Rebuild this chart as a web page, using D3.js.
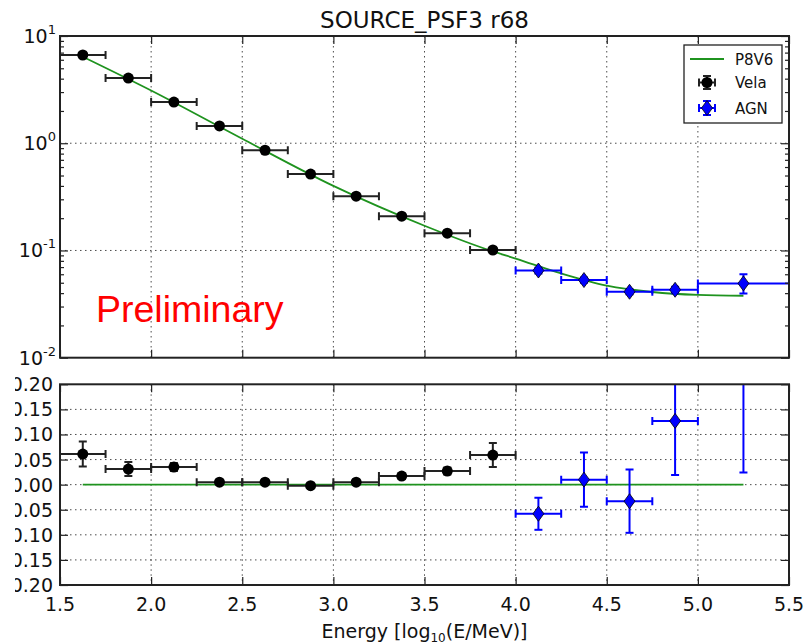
<!DOCTYPE html>
<html>
<head>
<meta charset="utf-8">
<script src="https://cdn.jsdelivr.net/npm/d3@7"></script>
<style>
  html, body { margin: 0; padding: 0; background: #fff; }
  svg { display: block; font-family: "DejaVu Sans", sans-serif; }
</style>
</head>
<body>
<div id="chart"></div>
<script>
// Vela (black circles), bins of width 0.25 in log10(E/MeV)
const velaE = [1.625, 1.875, 2.125, 2.375, 2.625, 2.875, 3.125, 3.375, 3.625, 3.875];
const velaXErr = [0.125, 0.125, 0.125, 0.125, 0.125, 0.125, 0.125, 0.125, 0.125, 0.125];
const velaR68 = [6.65, 4.05, 2.42, 1.45, 0.86, 0.516, 0.321, 0.209, 0.145, 0.101];
const velaRes = [0.061, 0.031, 0.035, 0.005, 0.005, -0.002, 0.005, 0.017, 0.027, 0.059];
const velaResErr = [0.025, 0.014, 0.008, 0.004, 0.004, 0.004, 0.004, 0.005, 0.007, 0.024];

// AGN (blue diamonds)
const agnE = [4.125, 4.375, 4.625, 4.875, 5.25];
const agnXErr = [0.125, 0.125, 0.125, 0.125, 0.25];
const agnR68 = [0.0650, 0.0530, 0.0412, 0.0430, 0.0493];
const agnLo = [0.0610, 0.0500, 0.0390, 0.0400, 0.0396];
const agnHi = [0.0690, 0.0560, 0.0435, 0.0460, 0.0600];
const agnRes = [-0.058, 0.010, -0.033, 0.127, 0.31];
const agnResErr = [0.032, 0.054, 0.063, 0.108, 0.286];

// P8V6 model curve
const modelE = [1.625, 2.0, 2.5, 3.0, 3.5, 3.875, 4.0, 4.25, 4.5, 4.75, 5.0, 5.25];
const modelR68 = [6.4, 3.1, 1.1, 0.40, 0.17, 0.098, 0.084, 0.061, 0.047, 0.041, 0.0385, 0.0378];

const xTicks = [1.5, 2.0, 2.5, 3.0, 3.5, 4.0, 4.5, 5.0, 5.5];
const topTicks = [0.01, 0.1, 1, 10];
const resTicks = [-0.2, -0.15, -0.1, -0.05, 0, 0.05, 0.1, 0.15, 0.2];

const W = 806, H = 642;
const L = 60, R = 789;
const topT = 36, topB = 357.7;
const botT = 384.3, botB = 585;

const svg = d3.select('#chart').append('svg')
  .attr('width', W).attr('height', H)
  .attr('viewBox', `0 0 ${W} ${H}`);

const x = d3.scaleLinear().domain([1.5, 5.5]).range([L, R]);
const yTop = d3.scaleLog().domain([0.01, 10]).range([topB, topT]);
const yBot = d3.scaleLinear().domain([-0.2, 0.2]).range([botB, botT]);

const defs = svg.append('defs');
defs.append('clipPath').attr('id', 'clipTop').append('rect')
  .attr('x', L).attr('y', topT).attr('width', R - L).attr('height', topB - topT);
defs.append('clipPath').attr('id', 'clipBot').append('rect')
  .attr('x', L).attr('y', botT).attr('width', R - L).attr('height', botB - botT);
defs.append('clipPath').attr('id', 'clipLabels').append('rect')
  .attr('x', 15).attr('y', 0).attr('width', W).attr('height', H);

const minorTop = [];
for (let d = -2; d < 1; d++) for (let m = 2; m <= 9; m++) minorTop.push(m * Math.pow(10, d));

function grid(g, y, yVals) {
  const gx = xTicks.slice(1, -1);
  g.selectAll('.vg').data(gx).join('line')
    .attr('x1', d => x(d)).attr('x2', d => x(d))
    .attr('y1', y.range()[1]).attr('y2', y.range()[0]);
  g.selectAll('.hg').data(yVals).join('line')
    .attr('x1', L).attr('x2', R)
    .attr('y1', d => y(d)).attr('y2', d => y(d));
  g.selectAll('line')
    .attr('stroke', '#000').attr('stroke-width', 1)
    .attr('stroke-dasharray', '1.5,3.5').attr('opacity', 0.7);
}

function frame(y, yMajor, yMinor) {
  const y0 = y.range()[0], y1 = y.range()[1];
  const mk = (axis, tr) => svg.append('g').attr('transform', tr).call(axis)
    .call(g => g.select('.domain').remove())
    .call(g => g.selectAll('line').attr('stroke', '#222').attr('stroke-width', 1.2));
  mk(d3.axisBottom(x).tickValues(xTicks).tickSize(-8).tickFormat(''), `translate(0,${y0})`);
  mk(d3.axisTop(x).tickValues(xTicks).tickSize(-8).tickFormat(''), `translate(0,${y1})`);
  mk(d3.axisLeft(y).tickValues(yMajor).tickSize(-8).tickFormat(''), `translate(${L},0)`);
  mk(d3.axisRight(y).tickValues(yMajor).tickSize(-8).tickFormat(''), `translate(${R},0)`);
  if (yMinor) {
    mk(d3.axisLeft(y).tickValues(yMinor).tickSize(-4).tickFormat(''), `translate(${L},0)`);
    mk(d3.axisRight(y).tickValues(yMinor).tickSize(-4).tickFormat(''), `translate(${R},0)`);
  }
  svg.append('rect')
    .attr('x', L).attr('y', y1).attr('width', R - L).attr('height', y0 - y1)
    .attr('fill', 'none').attr('stroke', '#222').attr('stroke-width', 2);
}

function errorbars(g, pts, color, capW) {
  const eg = g.append('g').attr('stroke', color).attr('stroke-width', 2).attr('fill', 'none');
  pts.forEach(p => {
    eg.append('line').attr('x1', p.x0).attr('x2', p.x1).attr('y1', p.y).attr('y2', p.y);
    [p.x0, p.x1].forEach(xx => eg.append('line')
      .attr('x1', xx).attr('x2', xx).attr('y1', p.y - capW).attr('y2', p.y + capW));
    eg.append('line').attr('x1', p.x).attr('x2', p.x).attr('y1', p.y0).attr('y2', p.y1);
    [p.y0, p.y1].forEach(yy => eg.append('line')
      .attr('x1', p.x - capW).attr('x2', p.x + capW).attr('y1', yy).attr('y2', yy));
  });
}

const diamond = (cx, cy) => `M${cx},${cy - 7.5}L${cx + 5.5},${cy}L${cx},${cy + 7.5}L${cx - 5.5},${cy}Z`;

// ---------- top panel ----------
grid(svg.append('g'), yTop, [0.1, 1]);

const topG = svg.append('g').attr('clip-path', 'url(#clipTop)');

topG.append('path')
  .datum(modelE.map((e, i) => [e, modelR68[i]]))
  .attr('fill', 'none').attr('stroke', '#1f931f').attr('stroke-width', 1.8)
  .attr('d', d3.line().x(d => x(d[0])).y(d => yTop(d[1])).curve(d3.curveMonotoneX));

errorbars(topG, velaE.map((e, i) => ({
  x: x(e), y: yTop(velaR68[i]), x0: x(e - velaXErr[i]), x1: x(e + velaXErr[i]),
  y0: yTop(velaR68[i] * 0.99), y1: yTop(velaR68[i] * 1.01)
})), '#222', 4);
errorbars(topG, agnE.map((e, i) => ({
  x: x(e), y: yTop(agnR68[i]), x0: x(e - agnXErr[i]), x1: x(e + agnXErr[i]),
  y0: yTop(agnLo[i]), y1: yTop(agnHi[i])
})), '#0000ff', 4);

topG.selectAll('.vela').data(velaE).join('circle')
  .attr('cx', d => x(d)).attr('cy', (d, i) => yTop(velaR68[i])).attr('r', 5.5)
  .attr('fill', '#000');
topG.selectAll('.agn').data(agnE).join('path')
  .attr('d', (d, i) => diamond(x(d), yTop(agnR68[i])))
  .attr('fill', '#0000ff').attr('stroke', '#000').attr('stroke-width', 0.8);

frame(yTop, topTicks, minorTop);

// log tick labels 10^n
svg.append('g').selectAll('text').data(topTicks).join('text')
  .attr('x', 56).attr('y', d => yTop(d) + 7)
  .attr('text-anchor', 'end').attr('font-size', 19).attr('fill', '#111')
  .each(function (d) {
    const t = d3.select(this);
    t.append('tspan').text('10');
    t.append('tspan').attr('font-size', 13).attr('dy', -9).text(Math.round(Math.log10(d)));
  });

svg.append('text')
  .attr('x', 96).attr('y', 322)
  .attr('font-family', '"Liberation Sans", Arial, sans-serif')
  .attr('font-size', 37.5).attr('fill', '#ff0000')
  .text('Preliminary');

svg.append('text')
  .attr('x', (L + R) / 2).attr('y', 28)
  .attr('text-anchor', 'middle').attr('font-size', 23).attr('fill', '#111')
  .text('SOURCE_PSF3 r68');

// legend
const lg = svg.append('g');
lg.append('rect').attr('x', 684).attr('y', 45).attr('width', 98).attr('height', 78)
  .attr('fill', '#fff').attr('stroke', '#222').attr('stroke-width', 1.3);
lg.append('line').attr('x1', 690).attr('x2', 724).attr('y1', 59).attr('y2', 59)
  .attr('stroke', '#1f931f').attr('stroke-width', 1.8);
errorbars(lg, [{ x: 707, y: 82.5, x0: 699, x1: 715, y0: 76, y1: 89 }], '#222', 4);
lg.append('circle').attr('cx', 707).attr('cy', 82.5).attr('r', 5.5).attr('fill', '#000');
errorbars(lg, [{ x: 707, y: 108, x0: 699, x1: 715, y0: 101, y1: 115 }], '#0000ff', 4);
lg.append('path').attr('d', diamond(707, 108))
  .attr('fill', '#0000ff').attr('stroke', '#000').attr('stroke-width', 0.8);
lg.selectAll('text').data(['P8V6', 'Vela', 'AGN']).join('text')
  .attr('x', 735).attr('y', (d, i) => [59, 82.5, 108][i] + 5.5)
  .attr('font-size', 15).attr('fill', '#111').text(d => d);

// ---------- residual panel ----------
grid(svg.append('g'), yBot, resTicks.slice(1, -1));

const botG = svg.append('g').attr('clip-path', 'url(#clipBot)');

botG.append('line')
  .attr('x1', x(modelE[0])).attr('x2', x(modelE[modelE.length - 1]))
  .attr('y1', yBot(0)).attr('y2', yBot(0))
  .attr('stroke', '#1f931f').attr('stroke-width', 1.8);

errorbars(botG, velaE.map((e, i) => ({
  x: x(e), y: yBot(velaRes[i]), x0: x(e - velaXErr[i]), x1: x(e + velaXErr[i]),
  y0: yBot(velaRes[i] - velaResErr[i]), y1: yBot(velaRes[i] + velaResErr[i])
})), '#222', 4);
errorbars(botG, agnE.map((e, i) => ({
  x: x(e), y: yBot(agnRes[i]), x0: x(e - agnXErr[i]), x1: x(e + agnXErr[i]),
  y0: yBot(agnRes[i] - agnResErr[i]), y1: yBot(agnRes[i] + agnResErr[i])
})), '#0000ff', 4);

botG.selectAll('.vela').data(velaE).join('circle')
  .attr('cx', d => x(d)).attr('cy', (d, i) => yBot(velaRes[i])).attr('r', 5.5)
  .attr('fill', '#000');
botG.selectAll('.agn').data(agnE).join('path')
  .attr('d', (d, i) => diamond(x(d), yBot(agnRes[i])))
  .attr('fill', '#0000ff').attr('stroke', '#000').attr('stroke-width', 0.8);

frame(yBot, resTicks, null);

// residual tick labels: the reference figure is cropped at its left edge
svg.append('g').attr('clip-path', 'url(#clipLabels)')
  .selectAll('text').data(resTicks).join('text')
  .attr('x', 53).attr('y', d => yBot(d) + 7)
  .attr('text-anchor', 'end').attr('font-size', 19).attr('fill', '#111')
  .text(d => d3.format('.2f')(d).replace('-', '\u2212'));

svg.append('g').selectAll('text').data(xTicks).join('text')
  .attr('x', d => x(d)).attr('y', 611)
  .attr('text-anchor', 'middle').attr('font-size', 19).attr('fill', '#111')
  .text(d => d3.format('.1f')(d));

const xl = svg.append('text')
  .attr('x', (L + R) / 2).attr('y', 638)
  .attr('text-anchor', 'middle').attr('font-size', 19).attr('fill', '#111');
xl.append('tspan').text('Energy [log');
xl.append('tspan').attr('font-size', 12).attr('dy', 4).text('10');
xl.append('tspan').attr('dy', -4).text('(E/MeV)]');
</script>
</body>
</html>
